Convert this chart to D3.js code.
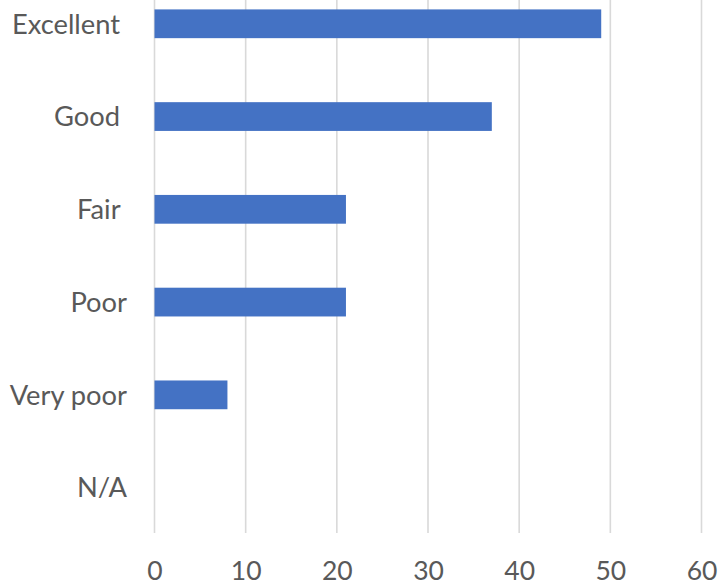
<!DOCTYPE html>
<html><head><meta charset="utf-8">
<script src="https://cdn.jsdelivr.net/npm/d3@7/dist/d3.min.js"></script>
<style>html,body{margin:0;padding:0;background:#fff;} text{white-space:pre;}</style>
</head><body>
<svg id="c" width="723" height="586"></svg>
<script>
const categories = ["Excellent ", "Good ", "Fair ", "Poor", "Very poor", "N/A"];
const values = [49, 37, 21, 21, 8, 0];
const xTicks = [0, 10, 20, 30, 40, 50, 60];

const svg = d3.select("#c");
const x = d3.scaleLinear().domain([0, 60]).range([154.5, 701.5]);
const y = d3.scaleBand().domain(categories).range([-22.6, 534]).paddingInner(0.69).paddingOuter(0.345);
const font = "Lato, 'Open Sans', sans-serif";

// gridlines
svg.append("g").selectAll("line").data(xTicks).join("line")
  .attr("x1", d => x(d)).attr("x2", d => x(d))
  .attr("y1", 0).attr("y2", 533)
  .attr("stroke", "#d9d9d9").attr("stroke-width", 1.6);

// bars
svg.append("g").selectAll("rect").data(values).join("rect")
  .attr("x", x(0)).attr("y", (d, i) => y(categories[i]))
  .attr("width", d => x(d) - x(0)).attr("height", y.bandwidth())
  .attr("fill", "#4472C4");

// x axis labels
const xAxis = d3.axisBottom(x).tickValues(xTicks).tickSize(0).tickPadding(0);
const gx = svg.append("g").attr("transform", "translate(0,580)").call(xAxis);
gx.select(".domain").remove();
gx.selectAll("text").attr("font-family", font).attr("font-size", 26.5).attr("fill", "#595959").attr("dy", "0");

// y axis labels
const yAxis = d3.axisLeft(y).tickSize(0).tickPadding(0);
const gy = svg.append("g").attr("transform", "translate(127,0)").call(yAxis);
gy.select(".domain").remove();
gy.selectAll("text").attr("font-family", font).attr("font-size", 27.3).attr("fill", "#595959").attr("dy", "0.36em");
</script>
</body></html>
